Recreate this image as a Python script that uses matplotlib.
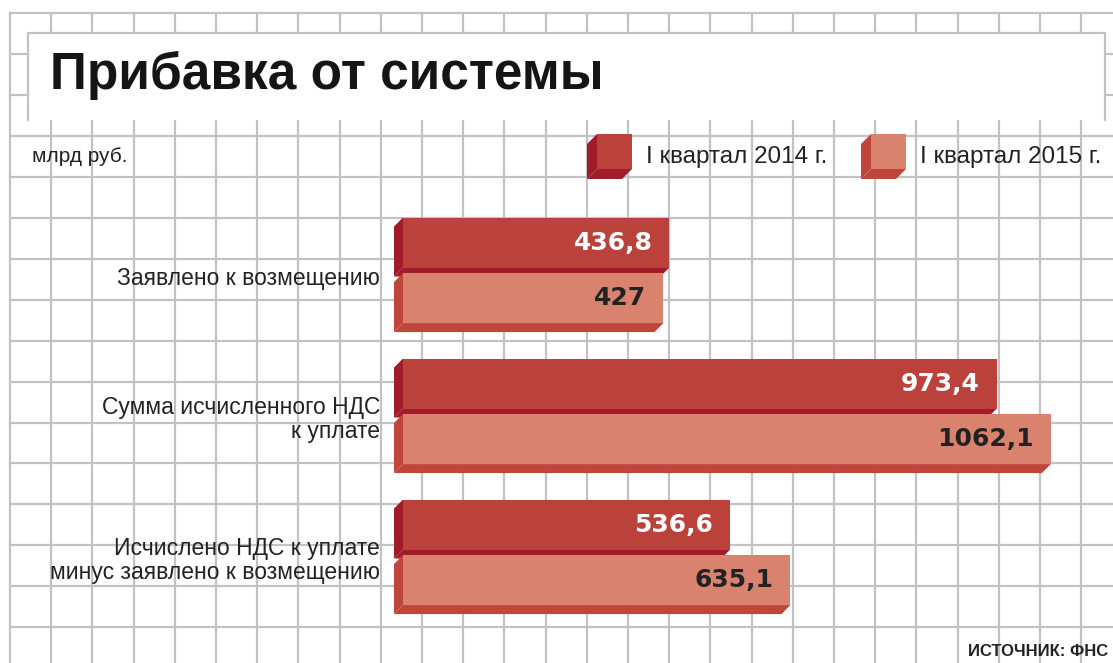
import numpy as np
import matplotlib
matplotlib.use('Agg')
import matplotlib.pyplot as plt
from matplotlib.patches import Polygon, Rectangle

plt.rcParams['font.family'] = ['Liberation Sans', 'DejaVu Sans']

# данные (млрд руб.)
categories = ['Заявлено к возмещению',
              'Сумма исчисленного НДС\nк уплате',
              'Исчислено НДС к уплате\nминус заявлено к возмещению']
q1_2014 = [436.8, 973.4, 536.6]
q1_2015 = [427.0, 1062.1, 635.1]
labels_2014 = ['436,8', '973,4', '536,6']
labels_2015 = ['427', '1062,1', '635,1']
series_names = ['I квартал 2014 г.', 'I квартал 2015 г.']

# цвета
dark_front, dark_side = '#BA423A', '#A11B2B'
light_front, light_side = '#D9836E', '#C0453B'
grid_col = '#C2C2C2'
text_col = '#222222'

W, H = 1113, 663
fig = plt.figure(figsize=(W / 100, H / 100), dpi=100)

# фон - сетка в пикселях
bg = fig.add_axes([0, 0, 1, 1])
bg.set_xlim(0, W)
bg.set_ylim(H, 0)
bg.axis('off')
for k in range(28):
    bg.plot([10 + k * 41.2] * 2, [13, H], color=grid_col, lw=1.6, zorder=1)
for k in range(17):
    bg.plot([10, W], [13 + k * 40.95] * 2, color=grid_col, lw=1.6, zorder=1)

# рамка заголовка
bg.add_patch(Rectangle((28, 33), 1077, 87, facecolor='white', edgecolor='none', zorder=2))
bg.plot([28, 28, 1105, 1105], [120, 33, 33, 120], color=grid_col, lw=1.6, zorder=3)
bg.text(50, 89, 'Прибавка от системы', fontsize=37, fontweight='bold',
        color='#151515', va='baseline', zorder=4)
bg.text(32, 156, 'млрд руб.', fontsize=15, color=text_col, va='center', zorder=4)
bg.text(1108, 651, 'ИСТОЧНИК: ФНС', fontsize=12, fontweight='bold',
        color=text_col, ha='right', va='center', zorder=4)

# легенда (кубики)
def cube(axis, x, y, size, d, front, side):
    axis.add_patch(Polygon([(x, y), (x - d, y + d), (x - d, y + size + d), (x, y + size)],
                           closed=True, facecolor=side, edgecolor='none', zorder=4))
    axis.add_patch(Polygon([(x, y + size), (x - d, y + size + d), (x + size - d, y + size + d),
                            (x + size, y + size)], closed=True, facecolor=side,
                           edgecolor='none', zorder=4))
    axis.add_patch(Rectangle((x, y), size, size, facecolor=front, edgecolor='none', zorder=5))

cube(bg, 597, 134, 35, 10, dark_front, dark_side)
cube(bg, 871, 134, 35, 10, light_front, light_side)
bg.text(646, 157, series_names[0], fontsize=17.5, color=text_col, va='center', zorder=5)
bg.text(920, 157, series_names[1], fontsize=17.5, color=text_col, va='center', zorder=5)

# оси для столбцов
s = 0.61        # пикселей на единицу
x0 = 403        # начало столбцов, px
y0, gap = 270, 141
ax = fig.add_axes([0, 0, 1, 1])
ax.patch.set_alpha(0)
ax.axis('off')
ax.set_xlim(-x0 / s, (W - x0) / s)
ax.set_ylim((H - y0) / gap, -y0 / gap)

h = 50 / gap
dx, dy = 9 / s, 9 / gap
idx = np.arange(len(categories))


def bars_3d(pos, vals, front, side, z):
    for y, v in zip(pos, vals):
        top, bot = y - h / 2, y + h / 2
        ax.add_patch(Polygon([(0, top), (-dx, top + dy), (-dx, bot + dy), (0, bot)],
                             closed=True, facecolor=side, edgecolor='none', zorder=z, clip_on=False))
        ax.add_patch(Polygon([(0, bot), (-dx, bot + dy), (v - dx, bot + dy), (v, bot)],
                             closed=True, facecolor=side, edgecolor='none', zorder=z, clip_on=False))
    ax.barh(pos, vals, height=h, left=0, color=front, zorder=z + 1)


pos14 = idx - 0.195
pos15 = idx + 0.199
bars_3d(pos14, q1_2014, dark_front, dark_side, 3)
bars_3d(pos15, q1_2015, light_front, light_side, 5)

pad = 17 / s
for y, v, t in zip(pos14, q1_2014, labels_2014):
    ax.text(v - pad, y, t, fontsize=18, fontweight='bold', family='DejaVu Sans',
            color='white', ha='right', va='center', zorder=8)
for y, v, t in zip(pos15, q1_2015, labels_2015):
    ax.text(v - pad, y, t, fontsize=18, fontweight='bold', family='DejaVu Sans',
            color=text_col, ha='right', va='center', zorder=8)

for y, c in zip(idx, categories):
    ax.text(-23 / s, y + 0.06, c, fontsize=16.5, color=text_col, ha='right',
            va='center', linespacing=1.1, zorder=8)

fig.savefig('out.png', dpi=100)
